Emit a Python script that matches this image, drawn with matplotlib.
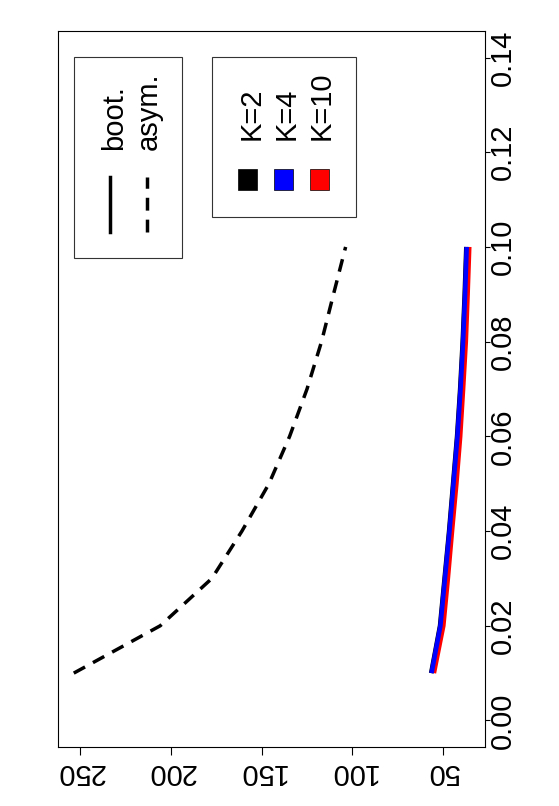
import matplotlib
matplotlib.use("Agg")
import matplotlib.pyplot as plt
from matplotlib.patches import Rectangle

plt.rcParams["font.family"] = ["Liberation Sans", "DejaVu Sans"]

# data: level on the vertical axis, length on the horizontal axis
level = [0.01, 0.02, 0.03, 0.04, 0.05, 0.06, 0.07, 0.08, 0.09, 0.10]
asym = [253.7, 206.0, 177.5, 160.9, 146.0, 134.6, 125.0, 117.0, 110.4, 103.7]
boot_k2 = [56.5, 51.6, 49.1, 46.6, 44.4, 42.2, 40.5, 39.1, 38.0, 37.1]
boot_k4 = [56.3, 51.4, 48.9, 46.4, 44.2, 42.0, 40.3, 38.9, 37.8, 36.9]
boot_k10 = [55.0, 49.8, 47.3, 45.0, 42.6, 40.5, 38.9, 37.4, 36.4, 35.5]
k_labels = ["K=2", "K=4", "K=10"]
k_colors = ["black", "blue", "red"]
x_ticks = [50, 100, 150, 200, 250]
y_ticks = [0.00, 0.02, 0.04, 0.06, 0.08, 0.10, 0.12, 0.14]

W, H = 559, 806
fig = plt.figure(figsize=(W / 100, H / 100), dpi=100)
ax = fig.add_axes([58 / W, 1 - 747 / H, 427 / W, 716 / H])

dash = (3.7, 2.6)
ax.plot(asym, level, color="black", lw=2.5, linestyle=(0, dash))
# blue drawn last so it sits on top of the red one, as in the original
ax.plot(boot_k2, level, color=k_colors[0], lw=3.3, solid_capstyle="butt")
ax.plot(boot_k10, level, color=k_colors[2], lw=3.3, solid_capstyle="butt")
ax.plot(boot_k4, level, color=k_colors[1], lw=3.3, solid_capstyle="butt")

ax.set_xlim(262.4, 26.8)
ax.set_ylim(-0.0056, 0.1456)

ax.set_xticks(x_ticks)
ax.set_xticklabels([str(t) for t in x_ticks], rotation=180)
ax.set_yticks(y_ticks)
ax.set_yticklabels([f"{t:.2f}" for t in y_ticks], rotation=90, va="center")
ax.yaxis.tick_right()
ax.tick_params(axis="x", length=5.8, width=0.8, pad=2, labelsize=21)
ax.tick_params(axis="y", length=3.6, width=0.8, pad=-0.5, labelsize=21)
for s in ax.spines.values():
    s.set_linewidth(0.8)

# legend boxes drawn in axes coordinates
ax.add_patch(Rectangle((0.0375, 0.683), 0.2529, 0.2807, transform=ax.transAxes,
                       fill=False, lw=0.8, ec="#333333"))
ax.plot([0.1218, 0.1218], [0.7193, 0.7961], transform=ax.transAxes,
        color="black", lw=2.5)
ax.plot([0.2084, 0.2084], [0.7193, 0.7961], transform=ax.transAxes,
        color="black", lw=2.5, linestyle=(0, dash))
for x, txt in zip([0.149, 0.2319], ["boot.", "asym."]):
    ax.text(x, 0.8338, txt, transform=ax.transAxes, rotation=90,
            rotation_mode="anchor", ha="left", va="baseline", fontsize=21)

ax.add_patch(Rectangle((0.3607, 0.7402), 0.3372, 0.2235, transform=ax.transAxes,
                       fill=False, lw=0.8, ec="#333333"))
for xc, xt, lab, col in zip([0.445, 0.5293, 0.6136], [0.473, 0.555, 0.637],
                            k_labels, k_colors):
    ax.add_patch(Rectangle((xc - 0.0223, 0.7933 - 0.0147), 0.0445, 0.0293,
                           transform=ax.transAxes, fc=col, ec="black", lw=0.5))
    ax.text(xt, 0.8478, lab, transform=ax.transAxes, rotation=90,
            rotation_mode="anchor", ha="left", va="baseline", fontsize=21)

fig.savefig("out.png", dpi=100)
